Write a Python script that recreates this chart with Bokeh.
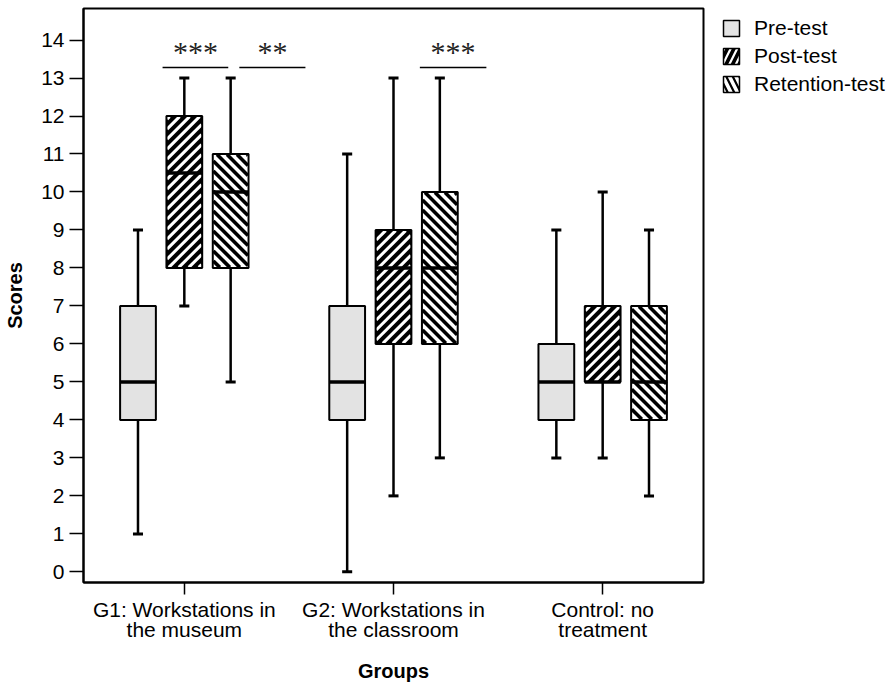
import numpy as np
from bokeh.plotting import figure
from bokeh.models import ColumnDataSource, FixedTicker, Legend, LegendItem, Range1d
from bokeh.core.properties import value
from bokeh.embed import file_html
from bokeh.resources import INLINE

# ---------------- data ----------------
groups = ["G1: Workstations in\nthe museum", "G2: Workstations in\nthe classroom", "Control: no\ntreatment"]
tests = ["Pre-test", "Post-test", "Retention-test"]
y_ticks = list(range(0, 15))

pre_min = [1, 0, 3]
pre_q1 = [4, 4, 4]
pre_med = [5, 5, 5]
pre_q3 = [7, 7, 6]
pre_max = [9, 11, 9]

post_min = [7, 2, 3]
post_q1 = [8, 6, 5]
post_med = [10.5, 8, 5]
post_q3 = [12, 9, 7]
post_max = [13, 13, 10]

ret_min = [5, 3, 2]
ret_q1 = [8, 6, 4]
ret_med = [10, 8, 5]
ret_q3 = [11, 10, 7]
ret_max = [13, 13, 9]

# significance annotations: (group index, left offset, right offset, label)
sig_group = [0, 0, 1]
sig_left = [-0.104, 0.263, 0.126]
sig_right = [0.21, 0.579, 0.444]
sig_label = ["***", "**", "***"]
sig_line_y = 13.28
sig_text_y = 13.7

# ---------------- styling ----------------
FONT = "Liberation Sans"
FRAME_W, FRAME_H = 620, 574
BL, BT = 83, 8
X0, X1 = -0.482, 2.482
Y0, Y1 = -0.28, 14.83
offsets = [-0.2215, 0.0, 0.2215]
box_w = 0.171
cap_half = 0.024
STRIPE_PERIOD = 10.0  # px, measured along x
styles = [
    dict(fill="#e3e3e3", stripe=None),
    dict(fill="black", stripe=("/", "white", 3.0)),
    dict(fill="white", stripe=("\\", "black", 3.6)),
]

sx = FRAME_W / (X1 - X0)  # px per data unit
sy = FRAME_H / (Y1 - Y0)


def stripes(xl, xr, yb, yt, direction):
    """45-degree stripe segments (in data units) clipped to each box."""
    out = ([], [], [], [])
    for a, b, c, d in zip(xl, xr, yb, yt):
        L, R, B, T = a * sx + 0.6, b * sx - 0.6, c * sy + 0.6, d * sy - 0.6
        if direction == "/":  # y = x + k
            kmin, kmax = B - R, T - L
        else:                 # y = -x + k
            kmin, kmax = B + L, T + R
        k = np.ceil(kmin / STRIPE_PERIOD) * STRIPE_PERIOD
        while k <= kmax:
            if direction == "/":
                xa, xb = max(L, B - k), min(R, T - k)
                ya, yb2 = xa + k, xb + k
            else:
                xa, xb = max(L, k - T), min(R, k - B)
                ya, yb2 = -xa + k, -xb + k
            if xb > xa:
                out[0].append(xa / sx); out[1].append(ya / sy)
                out[2].append(xb / sx); out[3].append(yb2 / sy)
            k += STRIPE_PERIOD
    return out


p = figure(width=896, height=686, frame_width=FRAME_W, frame_height=FRAME_H,
           output_backend="svg", toolbar_location=None,
           x_range=Range1d(X0, X1), y_range=Range1d(Y0, Y1),
           min_border_left=BL, min_border_right=0, min_border_top=BT, min_border_bottom=0)
p.xgrid.visible = False
p.ygrid.visible = False
p.outline_line_color = "black"
p.outline_line_width = 2
p.background_fill_color = "white"
p.border_fill_color = "white"

stats = [
    (pre_min, pre_q1, pre_med, pre_q3, pre_max),
    (post_min, post_q1, post_med, post_q3, post_max),
    (ret_min, ret_q1, ret_med, ret_q3, ret_max),
]

nan = float("nan")
legend_items = []
for ti, (mn, q1, md, q3, mx) in enumerate(stats):
    xs = [gi + offsets[ti] for gi in range(len(groups))]
    xl = [x - box_w / 2 for x in xs]
    xr = [x + box_w / 2 for x in xs]
    src = ColumnDataSource(dict(
        x=xs, mn=mn, q1=q1, md=md, q3=q3, mx=mx, xl=xl, xr=xr,
        cl=[x - cap_half for x in xs], cr=[x + cap_half for x in xs],
    ))
    # whiskers and caps
    p.segment(x0="x", y0="q3", x1="x", y1="mx", source=src, line_color="black", line_width=2.5)
    p.segment(x0="x", y0="q1", x1="x", y1="mn", source=src, line_color="black", line_width=2.5)
    p.segment(x0="cl", y0="mx", x1="cr", y1="mx", source=src, line_color="black", line_width=3)
    p.segment(x0="cl", y0="mn", x1="cr", y1="mn", source=src, line_color="black", line_width=3)
    st = styles[ti]
    # box fill
    p.quad(left="xl", right="xr", bottom="q1", top="q3", source=src,
           fill_color=st["fill"], line_color=None)
    # stripes
    if st["stripe"] is not None:
        d, col, w = st["stripe"]
        sx0, sy0, sx1, sy1 = stripes(xl, xr, q1, q3, d)
        p.segment(x0=sx0, y0=sy0, x1=sx1, y1=sy1, line_color=col, line_width=w, line_cap="butt")
    # median and outline
    p.segment(x0="xl", y0="md", x1="xr", y1="md", source=src, line_color="black", line_width=3.5)
    p.quad(left="xl", right="xr", bottom="q1", top="q3", source=src,
           fill_color=None, line_color="black", line_width=2)
    # legend swatch renderer (NaN geometry: nothing is drawn in the plot)
    kw = dict(fill_color=st["fill"], line_color="black", line_width=1.5)
    if st["stripe"] is not None:
        d, col, w = st["stripe"]
        kw.update(hatch_pattern=d, hatch_color=col, hatch_weight=2.2, hatch_scale=13)
    proxy = p.quad(left=[nan], right=[nan], bottom=[nan], top=[nan], **kw)
    legend_items.append(LegendItem(label=tests[ti], renderers=[proxy]))

# significance markers
sig_src = ColumnDataSource(dict(
    x0=[g + l for g, l in zip(sig_group, sig_left)],
    x1=[g + r for g, r in zip(sig_group, sig_right)],
    xc=[g + (l + r) / 2 for g, l, r in zip(sig_group, sig_left, sig_right)],
    y=[sig_line_y] * len(sig_label),
    ty=[sig_text_y] * len(sig_label),
    t=sig_label,
))
p.segment(x0="x0", y0="y", x1="x1", y1="y", source=sig_src, line_color="black", line_width=1.5)
p.text(x="xc", y="ty", text="t", source=sig_src, text_font=value("Liberation Serif"),
       text_font_size="30px", text_color="#222222", text_align="center", text_baseline="middle")

# axes
p.xaxis.ticker = FixedTicker(ticks=[0, 1, 2])
p.xaxis.major_label_overrides = {i: g for i, g in enumerate(groups)}
p.yaxis.ticker = FixedTicker(ticks=y_ticks)
for ax in (p.xaxis, p.yaxis):
    ax.axis_line_color = "black"
    ax.axis_line_width = 2
    ax.major_tick_line_color = "black"
    ax.major_tick_line_width = 1.5
    ax.major_tick_in = 0
    ax.minor_tick_line_color = None
    ax.major_label_text_font = FONT
    ax.major_label_text_font_size = "21px"
    ax.major_label_text_color = "black"
    ax.axis_label_text_font = FONT
    ax.axis_label_text_font_size = "20px"
    ax.axis_label_text_font_style = "bold"
    ax.axis_label_text_color = "black"
p.xaxis.major_tick_out = 12
p.yaxis.major_tick_out = 14
p.xaxis.major_label_standoff = 3
p.yaxis.major_label_standoff = 5
p.xaxis.major_label_text_line_height = 0.88
p.xaxis.axis_label = "Groups"
p.yaxis.axis_label = "Scores"
p.xaxis.axis_label_standoff = 16
p.yaxis.axis_label_standoff = 12

n_items = len(tests)
leg_h = n_items * 24 + (n_items - 1) * 4
legend = Legend(items=legend_items, location=(18, FRAME_H - 8 - leg_h), margin=0, padding=0,
                glyph_width=20, glyph_height=20, label_height=20, spacing=4,
                label_standoff=13, label_text_font=FONT, label_text_font_size="21px",
                label_text_color="black", border_line_color=None, background_fill_alpha=0)
p.add_layout(legend, "right")

open("out.html", "w").write(file_html(p, INLINE))
